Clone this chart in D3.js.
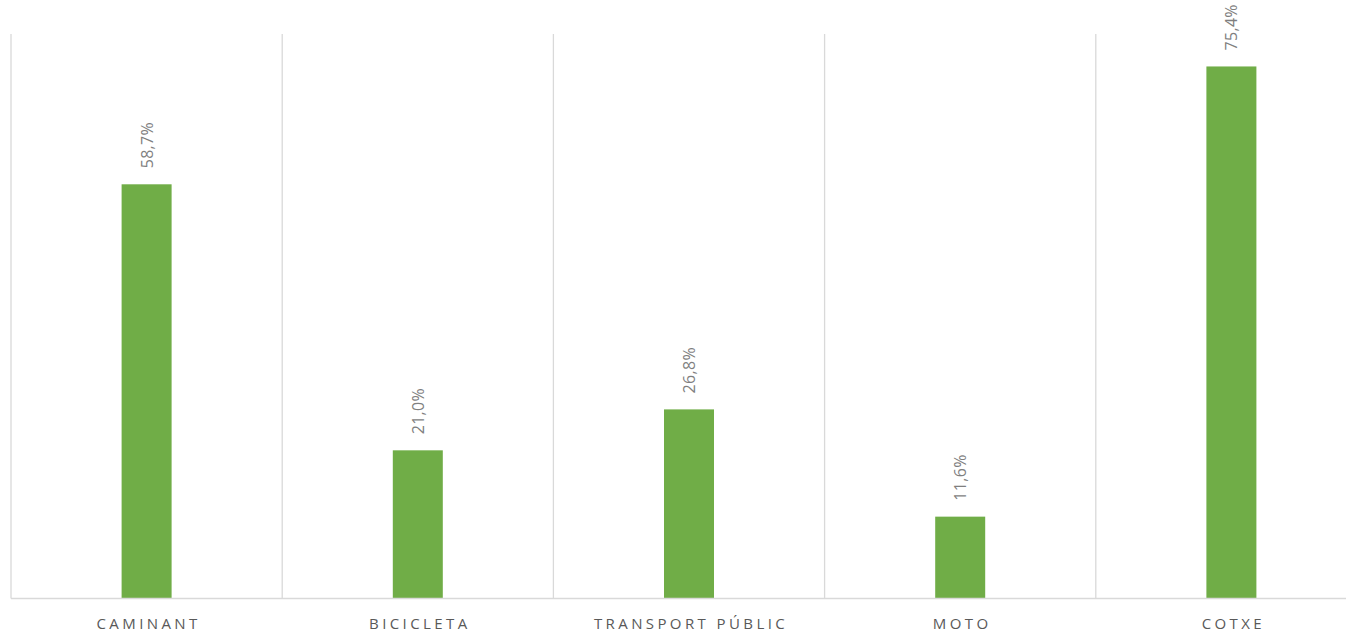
<!DOCTYPE html>
<html><head><meta charset="utf-8">
<script src="https://cdn.jsdelivr.net/npm/d3@7"></script>
<style>body{margin:0;background:#fff;}svg{display:block;}</style>
</head><body>
<svg id="c" width="1346" height="633"></svg>
<script>
const categories = ["CAMINANT","BICICLETA","TRANSPORT PÚBLIC","MOTO","COTXE"];
const values = [58.7, 21.0, 26.8, 11.6, 75.4];
const yMax = 80;

(function(){
const svg = d3.select("#c");
const mLeft = 11, bandW = 271.2, mTop = 34, mBottom = 598.5;
const x = d3.scaleBand().domain(categories).range([mLeft, mLeft + bandW*categories.length]).paddingInner(0).paddingOuter(0);
const y = d3.scaleLinear().domain([0, yMax]).range([mBottom, mTop]);

const bounds = categories.map(c => x(c)).concat([x.range()[1]]);
svg.append("g").selectAll("line").data(bounds).join("line")
  .attr("x1", d => d).attr("x2", d => d)
  .attr("y1", mTop).attr("y2", mBottom)
  .attr("stroke", "#d9d9d9").attr("stroke-width", 1.3);

const barW = 50;
svg.append("g").selectAll("rect").data(values).join("rect")
  .attr("x", (d,i) => x(categories[i]) + x.bandwidth()/2 - barW/2)
  .attr("width", barW)
  .attr("y", d => y(d))
  .attr("height", d => y(0) - y(d))
  .attr("fill", "#70ad47");

svg.append("line").attr("x1", mLeft).attr("x2", x.range()[1]).attr("y1", mBottom).attr("y2", mBottom)
  .attr("stroke", "#d9d9d9").attr("stroke-width", 1.3);

svg.append("g").selectAll("text").data(values).join("text")
  .attr("transform", (d,i) => `translate(${x(categories[i]) + x.bandwidth()/2 + 6},${y(d) - 16}) rotate(-90)`)
  .attr("text-anchor", "start")
  .attr("font-family", "Open Sans, sans-serif")
  .attr("font-size", 16)
  .attr("letter-spacing", "0.3px")
  .attr("fill", "#7f7f7f")
  .text(d => d.toFixed(1).replace(".", ",") + "%");

svg.append("g").selectAll("text").data(categories).join("text")
  .attr("x", d => x(d) + x.bandwidth()/2 + 2)
  .attr("y", 629)
  .attr("text-anchor", "middle")
  .attr("font-family", "Open Sans, sans-serif")
  .attr("font-size", 15)
  .attr("letter-spacing", "3.4px")
  .attr("fill", "#595959")
  .text(d => d);
})();
</script>
</body></html>
